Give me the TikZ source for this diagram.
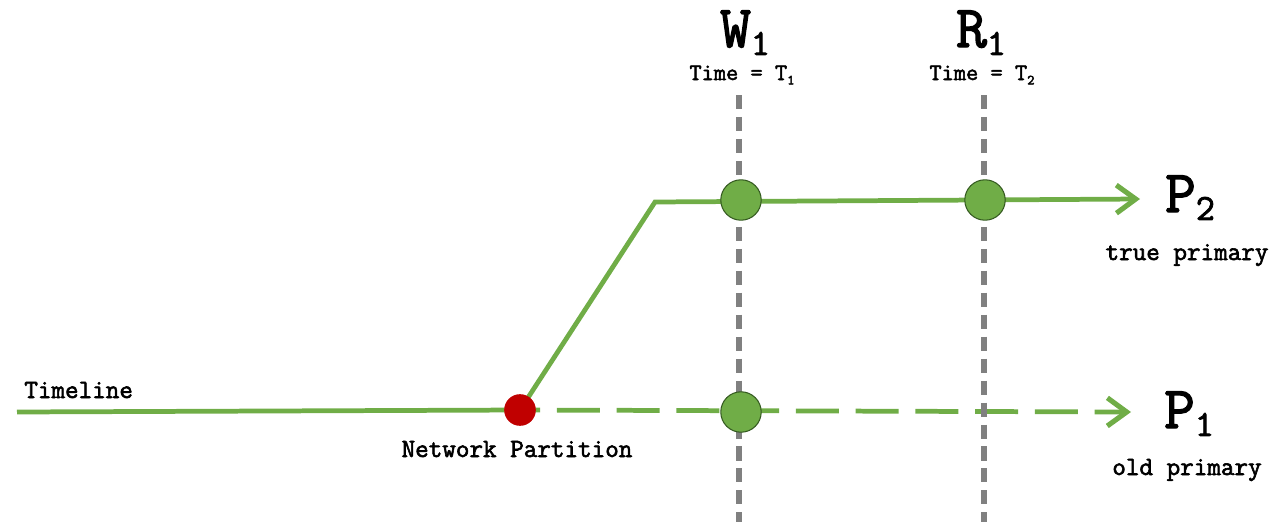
\documentclass[tikz,border=0pt]{standalone}
\usepackage{fontspec}
\setmonofont{Latin Modern Mono}[AutoFakeBold=2.2]
\usetikzlibrary{arrows.meta, backgrounds}

\definecolor{lineGreen}{RGB}{112,173,71}
\definecolor{eventEdge}{RGB}{52,90,32}
\definecolor{partRed}{RGB}{192,0,0}
\definecolor{markGray}{RGB}{128,128,128}

% subscripts as the picture sets them
\newcommand{\bigsub}[1]{\raisebox{-4.5pt}{\fontsize{21}{21}\selectfont #1}}
\newcommand{\smallsub}[1]{\raisebox{-2.5pt}{\fontsize{8}{8}\selectfont #1}}

\begin{document}
\begin{tikzpicture}[
    x=0.2mm, y=-0.2mm,
    font=\ttfamily\bfseries,
    greenline/.style={line width=2.7pt, color=lineGreen},
    futureline/.style={greenline, dash pattern=on 24.4pt off 9.6pt, dash phase=13pt},
    timemark/.style={line width=2.9pt, color=markGray, dash pattern=on 8pt off 4.5pt},
    event/.style={circle, draw=eventEdge, line width=0.6pt, fill=lineGreen, minimum size=23pt, inner sep=0pt},
    partition/.style={circle, fill=partRed, minimum size=18pt, inner sep=0pt},
    biglabel/.style={font=\ttfamily\bfseries\fontsize{34}{36}\selectfont, inner sep=0pt, anchor=base},
    timelabel/.style={font=\ttfamily\bfseries\fontsize{13.5}{15}\selectfont, inner sep=0pt, anchor=base},
    textlabel/.style={font=\ttfamily\bfseries\fontsize{15}{17}\selectfont, inner sep=0pt, anchor=base},
    tip/.style={-{Straight Barb[length=11pt, width=16pt, line width=2.9pt]}}
]
\useasboundingbox (0,0) rectangle (1282,526);

% === POINTS ===
\coordinate (start) at (17,412);
\coordinate (bend) at (655,202);
\coordinate (p2end) at (1140,199);
\coordinate (p1end) at (1131,412);
\coordinate (w1top) at (739,95);
\coordinate (w1bot) at (739,522);
\coordinate (r1top) at (984,95);
\coordinate (r1bot) at (984,522);

% === EVENTS ===
\node[partition] (np) at (520,410) {};
\node[event] (w1new) at (741,200) {};
\node[event] (r1new) at (985,200) {};
\node[event] (w1old) at (741,412) {};

% === LINES ===
\begin{pgfonlayer}{background}
\draw[greenline] (start) -- (np.center);
\draw[greenline, tip] (np.center) -- (bend) -- (p2end);
\draw[futureline, tip] (np.center) -- (p1end);
\draw[timemark] (w1top) -- (w1bot);
\draw[timemark] (r1top) -- (r1bot);
\end{pgfonlayer}

% === LABELS ===
\node[biglabel] (w1lab) at (745,47) {W\bigsub{1}};
\node[timelabel] (w1time) at (742,80) {Time = T\smallsub{1}};
\node[biglabel] (r1lab) at (981,47) {R\bigsub{1}};
\node[timelabel] (r1time) at (982,80) {Time = T\smallsub{2}};

\node[biglabel] (p2lab) at (1190,212) {P\bigsub{2}};
\node[textlabel] (p2text) at (1187,260) {true primary};
\node[biglabel] (p1lab) at (1189,428) {P\bigsub{1}};
\node[textlabel] (p1text) at (1187,475) {old primary};

\node[textlabel, anchor=base west] (timeline) at (24,398) {Timeline};
\node[textlabel] (nplab) at (517,457) {Network Partition};

\end{tikzpicture}
\end{document}
